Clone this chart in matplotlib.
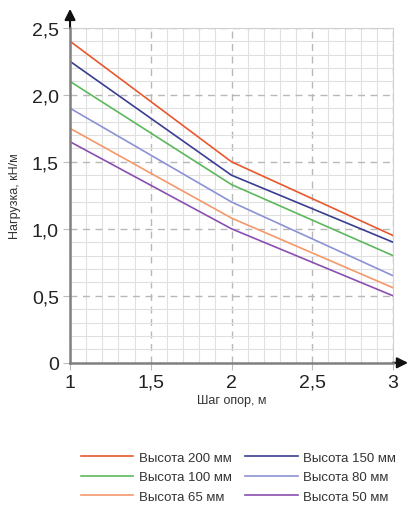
import numpy as np
import matplotlib.pyplot as plt
from matplotlib.ticker import MultipleLocator

# spans, m
span = [1, 2, 3]

# load values, kN/m
h200 = [2.40, 1.50, 0.95]
h150 = [2.25, 1.40, 0.90]
h100 = [2.10, 1.33, 0.80]
h80 = [1.90, 1.20, 0.65]
h65 = [1.75, 1.08, 0.56]
h50 = [1.65, 1.00, 0.50]

labels = ['Высота 200 мм', 'Высота 150 мм', 'Высота 100 мм',
          'Высота 80 мм', 'Высота 65 мм', 'Высота 50 мм']
series = [h200, h150, h100, h80, h65, h50]
colors = ['#e8582e', '#3a3d91', '#5cb85c', '#8c92d4', '#f5986a', '#8a4fb0']

xticks = [1, 1.5, 2, 2.5, 3]
xticklabels = ['1', '1,5', '2', '2,5', '3']
yticks = [0, 0.5, 1.0, 1.5, 2.0, 2.5]
yticklabels = ['0', '0,5', '1,0', '1,5', '2,0', '2,5']

narrow = ['Liberation Sans', 'DejaVu Sans']

fig = plt.figure(figsize=(4.12, 5.06), dpi=100)
ax = fig.add_axes([0.170, 0.281, 0.784, 0.662])

lines = {}
for lab, vals, c in zip(labels, series, colors):
    lines[lab], = ax.plot(span, vals, color=c, lw=1.2, zorder=3)

ax.set_xlim(1, 3)
ax.set_ylim(0, 2.5)

# grid
ax.xaxis.set_minor_locator(MultipleLocator(0.1))
ax.yaxis.set_minor_locator(MultipleLocator(0.1))
ax.grid(which='minor', color='#e0e0e0', lw=0.8, ls='-')
ax.grid(which='major', color='#b8b8b8', lw=1.0, ls=(0, (5, 4)))
ax.set_axisbelow(True)

ax.set_xticks(xticks)
ax.set_xticklabels(xticklabels)
ax.set_yticks(yticks)
ax.set_yticklabels(yticklabels)
ax.tick_params(which='major', direction='out', length=5, color='#bbbbbb',
               labelsize=14, labelcolor='#222222', pad=3)
ax.tick_params(which='minor', length=0)
for t in ax.get_xticklabels() + ax.get_yticklabels():
    t.set_family('Liberation Sans')

for s in ['top', 'right']:
    ax.spines[s].set_color('#d0d0d0')
    ax.spines[s].set_linewidth(0.8)
for s in ['left', 'bottom']:
    ax.spines[s].set_color('#808080')
    ax.spines[s].set_linewidth(1.8)
    ax.spines[s].set_zorder(4)

# axis arrows
ax.annotate('', xy=(1.055, 0), xycoords='axes fraction', xytext=(0.99, 0),
            arrowprops=dict(arrowstyle='-|>', color='#111111', lw=1.5,
                            mutation_scale=16), annotation_clip=False)
ax.annotate('', xy=(0, 1.065), xycoords='axes fraction', xytext=(0, 0.99),
            arrowprops=dict(arrowstyle='-|>', color='#111111', lw=1.5,
                            mutation_scale=16), annotation_clip=False)

ax.set_xlabel('Шаг опор, м', family=narrow, fontsize=9, color='#333333',
              labelpad=2)
ax.set_ylabel('Нагрузка, кН/м', family=narrow, fontsize=9, color='#333333',
              labelpad=8)

order = ['Высота 200 мм', 'Высота 100 мм', 'Высота 65 мм',
         'Высота 150 мм', 'Высота 80 мм', 'Высота 50 мм']
leg = fig.legend([lines[k] for k in order], order, ncol=2,
                 loc='center', bbox_to_anchor=(0.578, 0.055),
                 frameon=False, handlelength=4.0, handletextpad=0.4,
                 columnspacing=1.0, labelspacing=0.55,
                 prop={'family': narrow, 'size': 9.5})
for t in leg.get_texts():
    t.set_color('#333333')

fig.savefig('out.png', dpi=100)
